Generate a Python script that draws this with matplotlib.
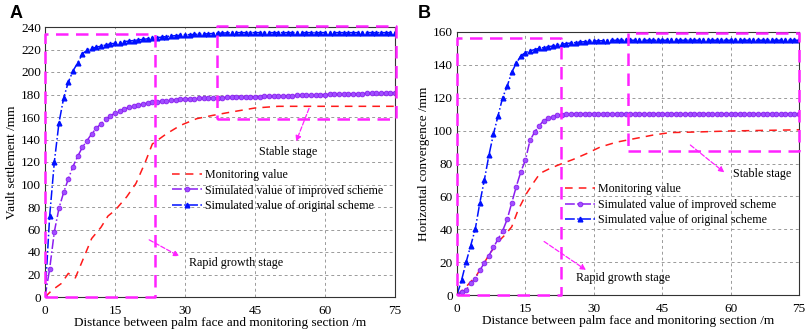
import matplotlib
matplotlib.use("Agg")
import matplotlib.pyplot as plt
import numpy as np

plt.rcParams['font.family'] = ['Liberation Serif', 'DejaVu Serif']

# ---------------- Panel A data ----------------
xA_sim = list(range(0, 76))
orig_A = [0, 72, 120, 155, 177, 191, 201, 208, 216, 219.5, 221, 222, 223, 224, 225,
          225.5, 226, 227, 227.5, 228, 228.5, 229, 229.5, 230, 230.5, 231, 231.5, 232,
          232.3, 232.6, 233, 233.2, 233.4, 233.6, 233.8, 234, 234.2, 234.4, 234.6, 234.8,
          235, 235, 235, 235, 235, 235, 235, 235, 235, 235, 235, 235, 235, 235, 235,
          235, 235, 235, 235, 235, 235, 235, 235, 235, 235, 235, 235, 235, 235, 235,
          235, 235, 235, 235, 235, 235]
impr_A = [0, 25, 58, 79, 93, 105, 116, 125, 133, 139, 145, 150, 154, 158, 161,
          163.5, 165.5, 167, 168.5, 169.5, 170.5, 171.5, 172.3, 173, 173.5, 174, 174.5, 175,
          175.3, 175.6, 176, 176.2, 176.4, 176.6, 176.8, 177, 177.1, 177.2, 177.3, 177.4,
          177.5, 177.6, 177.7, 177.8, 177.9, 178, 178.1, 178.3, 178.4, 178.5, 178.6, 178.8,
          178.9, 179, 179.2, 179.3, 179.4, 179.5, 179.7, 179.8, 180, 180.1, 180.2, 180.3,
          180.4, 180.5, 180.6, 180.7, 180.8, 180.9, 181, 181.1, 181.2, 181.3, 181.4, 181.5]
xA_mon = [0, 1.5, 3.5, 5, 6.5, 8.5, 10, 12, 13.5, 15, 17.5, 19.5, 21.5, 23, 26, 29,
          32.5, 36, 40, 45, 50, 60, 75]
mon_A = [0, 6, 12, 21, 17, 37, 52, 62, 72, 77, 89, 101, 120, 136, 145, 152.5,
         158.5, 161.5, 164.5, 168, 169.5, 169.5, 169.5]

# ---------------- Panel B data ----------------
xB_sim = list(range(0, 76))
orig_B = [0, 9, 20, 30, 40, 56, 70, 85, 98, 109, 120, 127, 135.5, 141, 145.5,
          147.5, 148.5, 149.3, 150, 150.5, 151, 151.5, 152, 152.5, 153, 153.3, 153.6,
          153.9, 154.1, 154.3, 154.5, 154.6, 154.7, 154.8, 154.9] + [155] * 41
impr_B = [0, 2, 3, 7, 10, 15, 19.5, 24, 29, 34, 39, 46, 56, 66, 75, 82, 94, 99,
          103, 106, 107.5, 108.5, 109.3, 109.8, 110.2] + [110.3] * 51
xB_mon = [0, 2, 4.3, 6.5, 8.7, 10.5, 12, 13.4, 15.3, 16.7, 18.2, 20.4, 22.6, 25.5,
          28.4, 31.4, 35, 38.7, 43, 46.7, 53, 60, 75]
mon_B = [0, 5, 12, 22, 31.5, 36.5, 41.5, 51.7, 62, 68, 74, 77, 79.5, 82.5, 86, 90,
         93, 95, 97.3, 98.8, 99.2, 99.8, 100.5]

# Boxes: (x0, x1, y0, y1)
rapid_A = (0, 23.6, 0, 233.5)
stable_A = (36.8, 75.3, 158.5, 241)
rapid_B = (0, 22.7, 0, 156.5)
stable_B = (37.4, 75.1, 87.6, 159.6)

xticks = [0, 15, 30, 45, 60, 75]
yticks_A = list(range(0, 241, 20))
yticks_B = list(range(0, 161, 20))

legend_labels = ["Monitoring value", "Simulated value of improved scheme",
                 "Simulated value of original scheme"]

RED = '#ff1a1a'
PURPLE = '#8a1cf0'
BLUE = '#0010ff'
MAG = '#ff22ff'

fig = plt.figure(figsize=(8.09, 3.31), dpi=100)
axA = fig.add_axes([45 / 809, 1 - 297 / 331, 350 / 809, 270 / 331])
axB = fig.add_axes([457 / 809, 1 - 295 / 331, 342 / 809, 263 / 331])


def draw(ax, xs, orig, impr, xm, mon, ylim, yticks, rapid, stable, ylabel,
         leg_anchor, stab_txt, stab_arrow, rap_txt, rap_arrow):
    ax.set_xlim(0, 75)
    ax.set_ylim(*ylim)
    ax.set_xticks(xticks)
    ax.set_yticks(yticks)
    ax.grid(True, linestyle=(0, (3, 3)), color='#9a9a9a', linewidth=0.7)
    ax.set_axisbelow(True)
    l1, = ax.plot(xm, mon, color=RED, linestyle=(0, (5, 4)), linewidth=1.1,
                  label=legend_labels[0])
    l2, = ax.plot(xs, impr, color=PURPLE, linestyle='-.', linewidth=1.1,
                  marker='o', markersize=3.4, markerfacecolor='#a050ff',
                  markeredgecolor=PURPLE, markeredgewidth=0.6,
                  label=legend_labels[1])
    l3, = ax.plot(xs, orig, color=BLUE, linestyle='-.', linewidth=1.1,
                  marker='^', markersize=3.4, markerfacecolor=BLUE,
                  markeredgecolor=BLUE, label=legend_labels[2])
    for (x0, x1, y0, y1) in (rapid, stable):
        ax.plot([x0, x1, x1, x0, x0], [y0, y0, y1, y1, y0], color=MAG,
                linestyle=(0, (5, 3)), linewidth=1.8, clip_on=False, zorder=5)
    ax.tick_params(axis='y', direction='in', length=0, labelsize=9.5, pad=3)
    ax.tick_params(axis='x', direction='in', length=0, labelsize=9.5, pad=5.5)
    for s in ax.spines.values():
        s.set_linewidth(0.8)
        s.set_color('#333333')
    ax.set_xlabel("Distance between palm face and monitoring section /m",
                  fontsize=9.5, labelpad=0)
    ax.set_ylabel(ylabel, fontsize=9.5, labelpad=2)
    ax.legend(handles=[l1, l2, l3], loc='upper left', bbox_to_anchor=leg_anchor,
              frameon=False, fontsize=8.6, handlelength=2.5, handletextpad=0.25,
              labelspacing=0.3, borderpad=0, borderaxespad=0)
    ax.text(stab_txt[0], stab_txt[1], "Stable stage", fontsize=8.7,
            ha='center', va='center')
    ax.annotate("", xy=stab_arrow[1], xytext=stab_arrow[0],
                arrowprops=dict(arrowstyle='-|>', color=MAG, linestyle='--',
                                linewidth=0.9, mutation_scale=8))
    ax.text(rap_txt[0], rap_txt[1], "Rapid growth stage", fontsize=8.7,
            ha='center', va='center')
    ax.annotate("", xy=rap_arrow[1], xytext=rap_arrow[0],
                arrowprops=dict(arrowstyle='-|>', color=MAG, linestyle='--',
                                linewidth=0.9, mutation_scale=8))


draw(axA, xA_sim, orig_A, impr_A, xA_mon, mon_A, (0, 240), yticks_A, rapid_A,
     stable_A, "Vault settlement /mm", (0.363, 0.474),
     (52, 129), ((56.8, 170), (53.6, 136)), (41, 30.5), ((21.8, 52), (29.3, 35)))
draw(axB, xB_sim, orig_B, impr_B, xB_mon, mon_B, (0, 160), yticks_B, rapid_B,
     stable_B, "Horizontal convergence /mm", (0.316, 0.425),
     (66.9, 73.6), ((50.7, 92.3), (59.1, 73.5)), (36.5, 10.1),
     ((18.6, 33.5), (28.8, 14.2)))

fig.text(10 / 809, 1 - 13 / 331, "A", fontsize=13, fontweight='bold',
         family='Liberation Sans', va='center', ha='left')
fig.text(418 / 809, 1 - 13 / 331, "B", fontsize=13, fontweight='bold',
         family='Liberation Sans', va='center', ha='left')

fig.savefig("out.png", dpi=100)
